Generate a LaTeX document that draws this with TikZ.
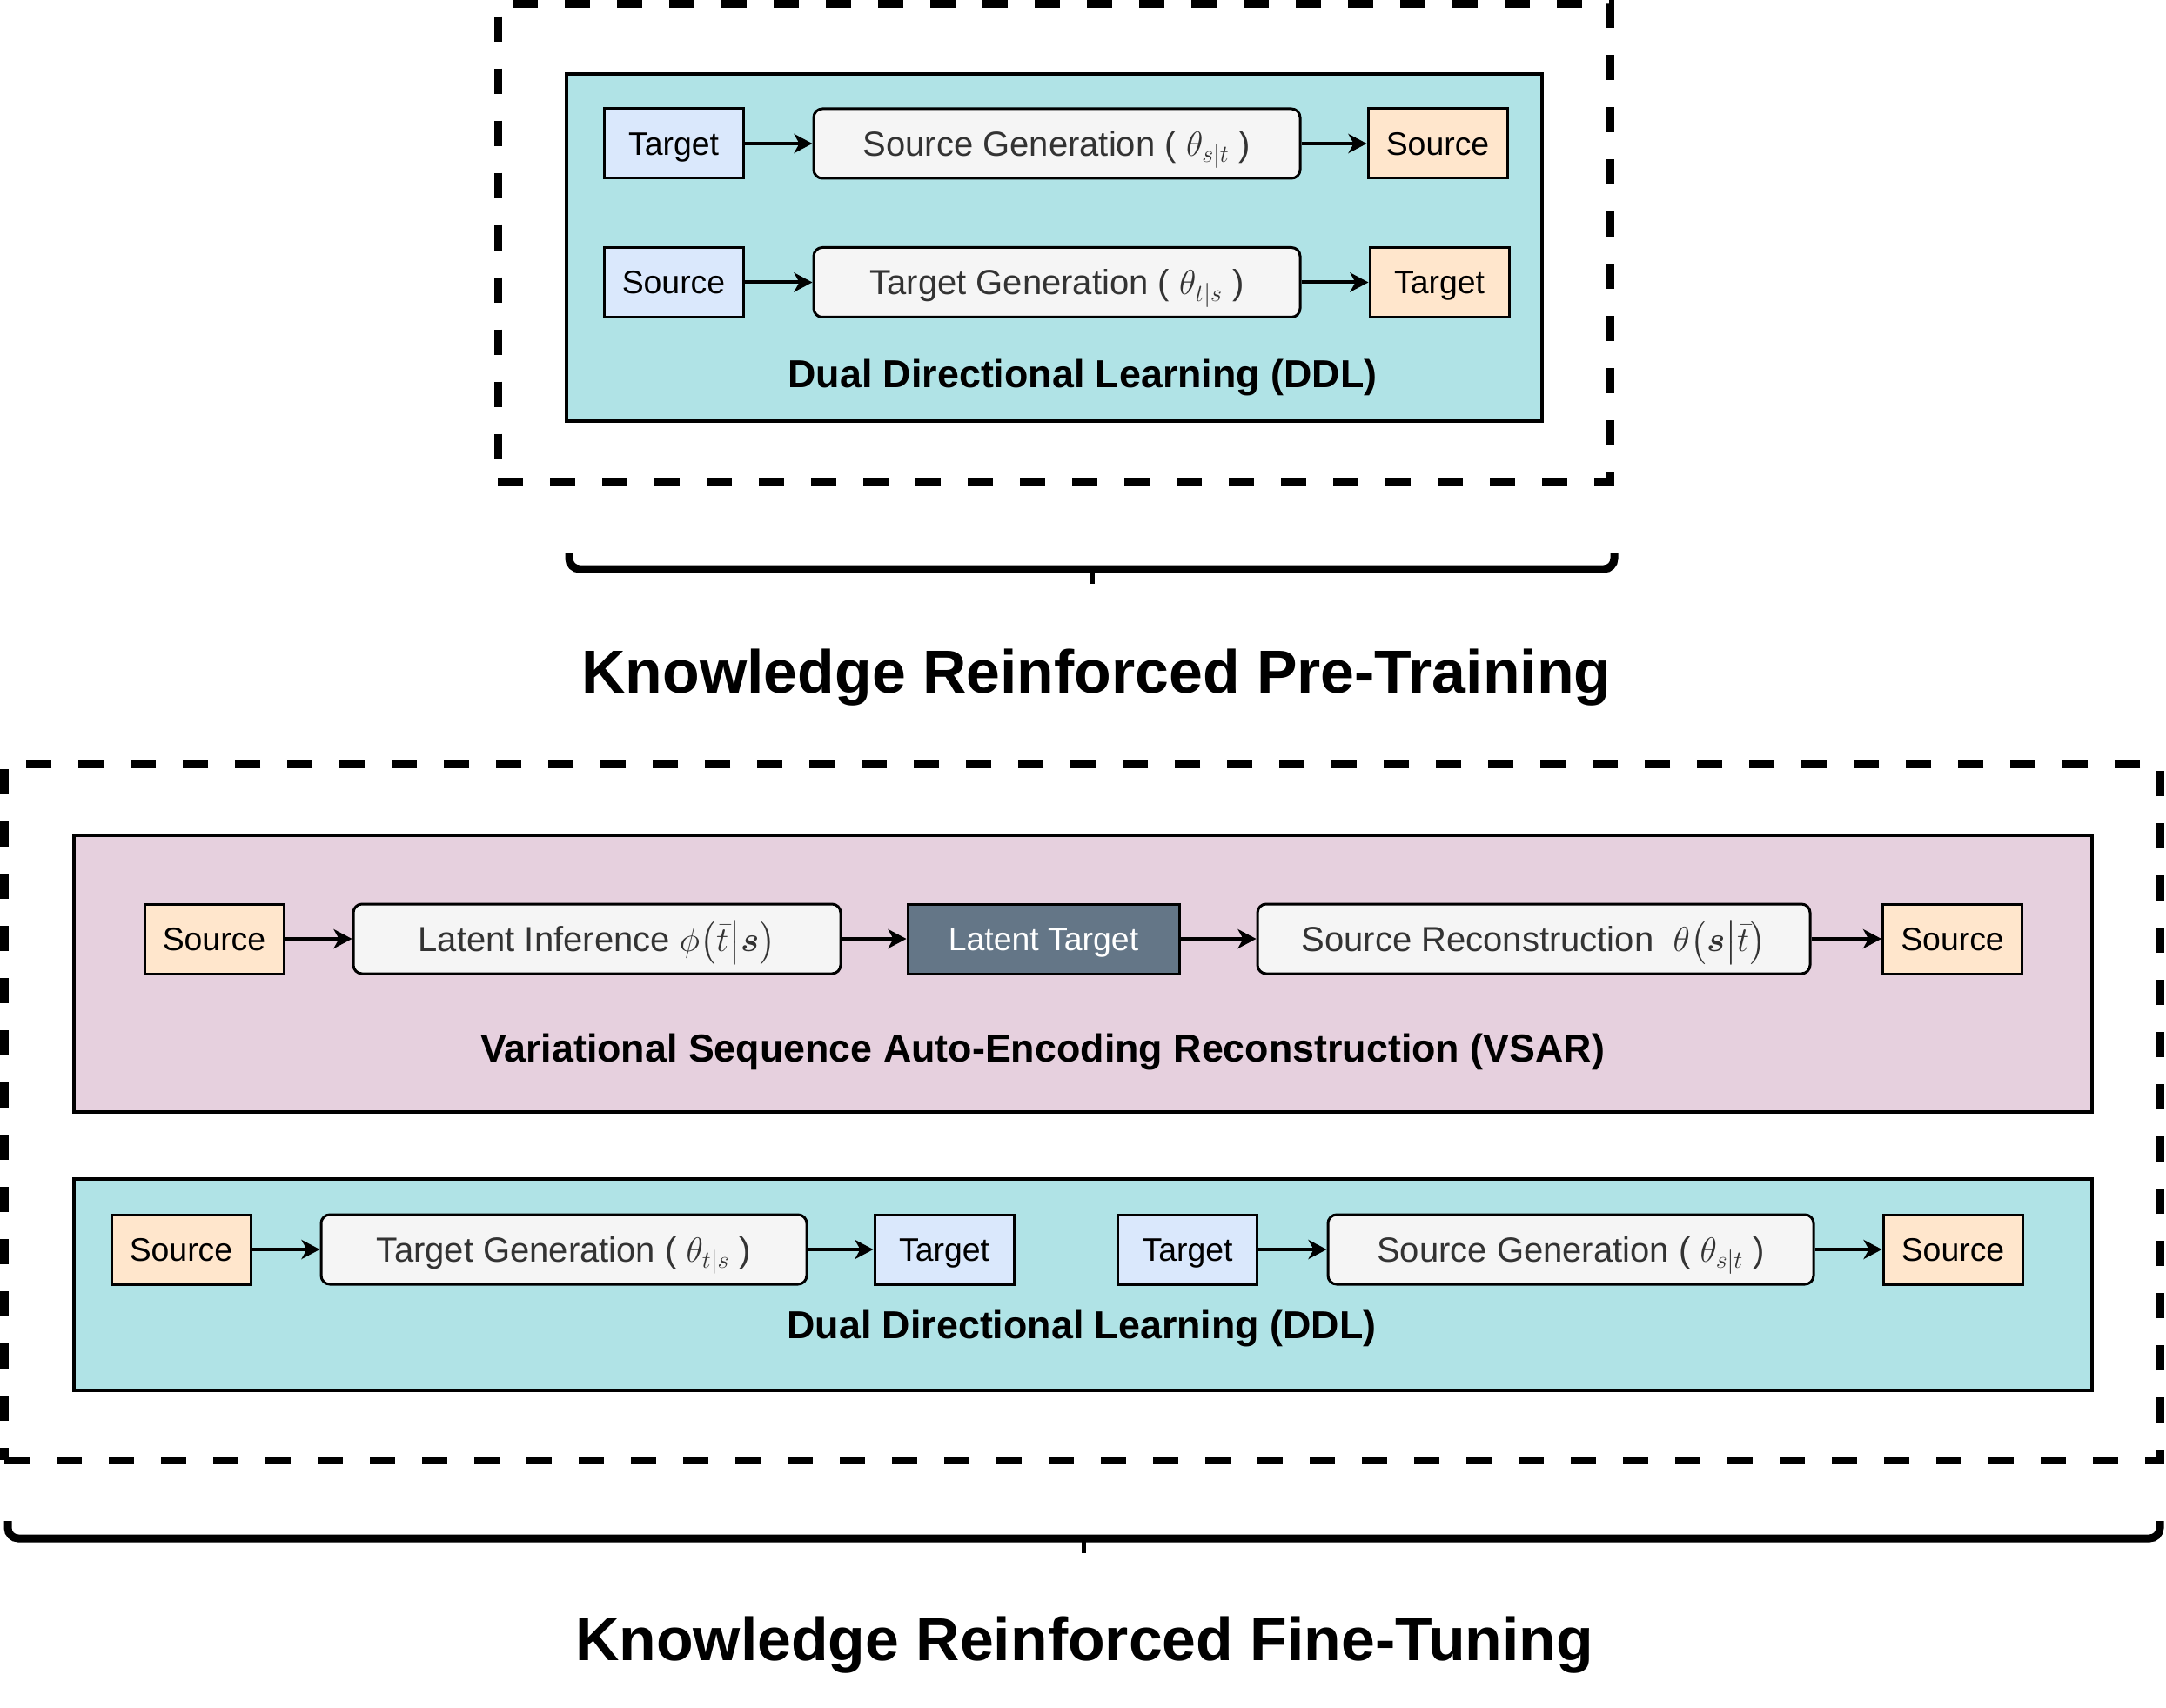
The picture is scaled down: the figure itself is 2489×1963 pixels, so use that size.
\RequirePackage{fix-cm}
\documentclass[tikz,border=0pt]{standalone}
\usepackage{amsmath}
\usepackage{fontspec}
\setmainfont{Liberation Sans}
\usetikzlibrary{arrows.meta}
\definecolor{cblue}{HTML}{DAE8FC}
\definecolor{corange}{HTML}{FFE6CC}
\definecolor{cgray}{HTML}{F5F5F5}
\definecolor{ctext}{HTML}{333333}
\definecolor{cteal}{HTML}{B0E3E6}
\definecolor{cpink}{HTML}{E6D0DE}
\definecolor{cslate}{HTML}{647687}
\begin{document}
\begin{tikzpicture}[x=0.5pt,y=-0.5pt,
  base/.style={draw=black, line width=1.5pt, inner sep=0pt, align=center,
    font=\fontsize{18.7}{22}\selectfont, text height=13.4pt, text depth=0pt},
  bluebox/.style={base, fill=cblue, minimum width=80pt, minimum height=40pt},
  orangebox/.style={base, fill=corange, minimum width=80pt, minimum height=40pt},
  procbox/.style={base, fill=cgray, text=ctext, rounded corners=5pt, minimum height=40pt,
    font=\fontsize{20}{24}\selectfont, text height=14.3pt},
  latentbox/.style={base, fill=cslate, text=white, minimum height=40pt},
  arr/.style={line width=2pt, -{Stealth[length=10.5pt,width=11pt,inset=3pt]}},
  groupbox/.style={draw=black, line width=2.25pt, inner sep=0pt},
  dashbox/.style={draw=black, line width=4.5pt, dash pattern=on 14.5pt off 15.5pt, inner sep=0pt},
  grouplabel/.style={anchor=base, font=\bfseries\fontsize{22.4}{26}\selectfont},
  titlelabel/.style={anchor=base, font=\bfseries\fontsize{34.9}{40}\selectfont},
  bracemain/.style={line width=4.5pt, rounded corners=6pt},
  bracetip/.style={line width=2.5pt}
]
\useasboundingbox (0,0) rectangle (2489,1963);

% ---------- Pre-training ----------
\node[dashbox, minimum width=639pt, minimum height=274.75pt] (pre) at (1211,279) {};
\node[groupbox, fill=cteal, minimum width=560.5pt, minimum height=199.5pt] (ddlA) at (1211.5,284.5) {};

\node[bluebox] (t1) at (774,165) {Target};
\node[procbox, minimum width=279.5pt] (sg1) at (1214.5,165) {Source Generation ( $\theta_{s|t}$ )};
\node[orangebox] (s1) at (1652,165) {Source};

\node[bluebox] (s2) at (774,324.5) {Source};
\node[procbox, minimum width=279.5pt] (tg1) at (1214.5,324.5) {Target Generation ( $\theta_{t|s}$ )};
\node[orangebox] (t2) at (1654,324.5) {Target};

\draw[arr] (t1) -- (sg1);
\draw[arr] (sg1) -- (s1);
\draw[arr] (s2) -- (tg1);
\draw[arr] (tg1) -- (t2);

\node[grouplabel] (ddlAlab) at (1244,445) {Dual Directional Learning (DDL)};

\draw[bracemain] (654,635) -- (654,654) -- (1855,654) -- (1855,635);
\coordinate (braceAmid) at (1255,654);
\coordinate (braceAtip) at (1255,671);
\draw[bracetip] (braceAmid) -- (braceAtip);

\node[titlelabel] (titleA) at (1260,796) {Knowledge Reinforced Pre-Training};

% ---------- Fine-tuning ----------
\node[dashbox, minimum width=1238.5pt, minimum height=400pt] (fine) at (1243.5,1278) {};

\node[groupbox, fill=cpink, minimum width=1159.5pt, minimum height=159pt] (vsar) at (1244.5,1119) {};

\node[orangebox] (vs1) at (246,1079) {Source};
\node[procbox, minimum width=280pt] (li) at (686,1079) {Latent Inference $\phi\bigl(\bar{t}\big|\boldsymbol{s}\bigr)$};
\node[latentbox, minimum width=156pt] (lt) at (1199,1079) {Latent Target};
\node[procbox, minimum width=317.5pt] (sr) at (1762.5,1079) {Source Reconstruction\ \ $\theta\bigl(\boldsymbol{s}\big|\bar{t}\bigr)$};
\node[orangebox] (vs2) at (2243.5,1079) {Source};

\draw[arr] (vs1) -- (li);
\draw[arr] (li) -- (lt);
\draw[arr] (lt) -- (sr);
\draw[arr] (sr) -- (vs2);

\node[grouplabel] (vsarlab) at (1198,1220) {Variational Sequence Auto-Encoding Reconstruction (VSAR)};

\node[groupbox, fill=cteal, minimum width=1159.5pt, minimum height=121.5pt] (ddlB) at (1244.5,1476.5) {};

\node[orangebox] (b1) at (208,1436) {Source};
\node[procbox, minimum width=279pt] (btg) at (648,1436) {Target Generation ( $\theta_{t|s}$ )};
\node[bluebox] (b2) at (1085,1436) {Target};
\node[bluebox] (b3) at (1364.5,1436) {Target};
\node[procbox, minimum width=279pt] (bsg) at (1805,1436) {Source Generation ( $\theta_{s|t}$ )};
\node[orangebox] (b4) at (2244,1436) {Source};

\draw[arr] (b1) -- (btg);
\draw[arr] (btg) -- (b2);
\draw[arr] (b3) -- (bsg);
\draw[arr] (bsg) -- (b4);

\node[grouplabel] (ddlBlab) at (1243,1538) {Dual Directional Learning (DDL)};

\draw[bracemain] (9,1748) -- (9,1768) -- (2482,1768) -- (2482,1748);
\coordinate (braceBmid) at (1245,1768);
\coordinate (braceBtip) at (1245,1785);
\draw[bracetip] (braceBmid) -- (braceBtip);

\node[titlelabel] (titleB) at (1246,1908) {Knowledge Reinforced Fine-Tuning};
\end{tikzpicture}
\end{document}
